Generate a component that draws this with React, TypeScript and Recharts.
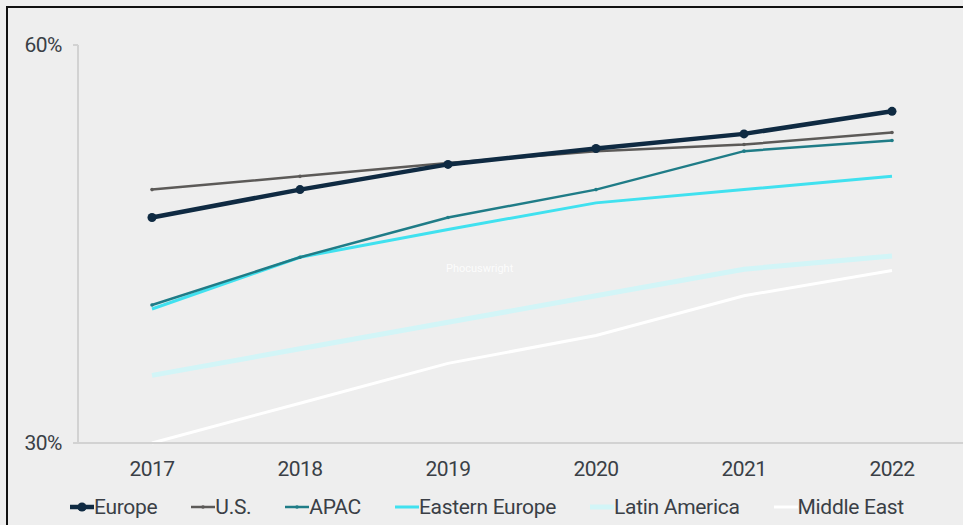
import React from "react";
import { LineChart, Line, XAxis, YAxis, Legend } from "recharts";

const years = ["2017", "2018", "2019", "2020", "2021", "2022"];
const europe = [47.0, 49.1, 51.0, 52.2, 53.3, 55.0];
const us = [49.1, 50.1, 51.1, 52.0, 52.5, 53.4];
const apac = [40.4, 44.0, 47.0, 49.1, 52.0, 52.8];
const easternEurope = [40.1, 44.0, 46.1, 48.1, 49.1, 50.1];
const latinAmerica = [35.1, 37.1, 39.1, 41.1, 43.1, 44.1];
const middleEast = [30.0, 33.0, 36.0, 38.1, 41.1, 43.0];
const yTicks = [30, 60];

const data = years.map((year, i) => ({
  x: i,
  year,
  europe: europe[i],
  us: us[i],
  apac: apac[i],
  easternEurope: easternEurope[i],
  latinAmerica: latinAmerica[i],
  middleEast: middleEast[i],
}));

const series = [
  { key: "europe", name: "Europe", color: "#0f2a42", width: 4.5, dot: 4.5 },
  { key: "us", name: "U.S.", color: "#5c5a58", width: 2.5, dot: 1.8 },
  { key: "apac", name: "APAC", color: "#1f7c87", width: 2.5, dot: 1.8 },
  { key: "easternEurope", name: "Eastern Europe", color: "#40e1ef", width: 3, dot: 0 },
  { key: "latinAmerica", name: "Latin America", color: "#d2f5f7", width: 5, dot: 0 },
  { key: "middleEast", name: "Middle East", color: "#ffffff", width: 3, dot: 0 },
];

const FONT = "Roboto, sans-serif";
const TEXT = "#3a3f46";
const AXIS = "#d2d2d2";

function LegendRow() {
  return (
    <div style={{ display: "flex", gap: 34, alignItems: "center", fontFamily: FONT, fontSize: 21, color: TEXT }}>
      {series.map((s) => (
        <div key={s.key} style={{ display: "flex", alignItems: "center" }}>
          <svg width={24} height={12}>
            <line x1={0} y1={6} x2={24} y2={6} stroke={s.color} strokeWidth={s.width} />
            {s.dot > 0 && <circle cx={12} cy={6} r={s.dot} fill={s.color} />}
          </svg>
          <span style={{ letterSpacing: -0.3 }}>{s.name}</span>
        </div>
      ))}
    </div>
  );
}

export default function App() {
  return (
    <div style={{ position: "absolute", left: 0, top: 0, width: 963, height: 525, overflow: "hidden", background: "#eeeeee" }}>
      <div
        style={{
          position: "absolute",
          left: 6,
          top: 6,
          right: 0,
          bottom: 0,
          borderLeft: "2px solid #111",
          borderTop: "2px solid #111",
        }}
      />
      <div
        style={{
          position: "absolute",
          left: 446,
          top: 262,
          fontFamily: FONT,
          fontSize: 11,
          color: "#ffffff",
          opacity: 0.85,
        }}
      >
        Phocuswright
      </div>
      <div style={{ position: "absolute", left: 0, top: 0 }}>
        <LineChart width={980} height={525} data={data} margin={{ top: 45, right: 14, left: 0, bottom: 0 }}>
          <XAxis
            xAxisId="grid"
            dataKey="x"
            type="number"
            domain={[-0.5, 5.5]}
            ticks={[-0.5, 0.5, 1.5, 2.5, 3.5, 4.5, 5.5]}
            tick={false}
            tickSize={6}
            tickLine={{ stroke: AXIS, strokeWidth: 2 }}
            axisLine={{ stroke: AXIS, strokeWidth: 2 }}
            height={2}
          />
          <XAxis
            xAxisId="yr"
            dataKey="x"
            type="number"
            domain={[-0.5, 5.5]}
            ticks={[0, 1, 2, 3, 4, 5]}
            tickFormatter={(v) => years[v]}
            tickLine={false}
            axisLine={false}
            tickMargin={10}
            tick={{ fill: TEXT, fontSize: 21, fontFamily: FONT, letterSpacing: -0.5 }}
            height={38}
          />
          <YAxis
            domain={[30, 60]}
            ticks={yTicks}
            tickFormatter={(v) => `${v}%`}
            width={78}
            tickSize={5}
            tickMargin={11}
            axisLine={{ stroke: AXIS, strokeWidth: 2 }}
            tickLine={{ stroke: AXIS, strokeWidth: 2 }}
            tick={{ fill: TEXT, fontSize: 21, fontFamily: FONT, letterSpacing: -0.5 }}
          />
          <Legend content={<LegendRow />} verticalAlign="bottom" height={42} wrapperStyle={{ left: 70, top: 495, width: "auto" }} />
          {[...series].reverse().map((s) => (
            <Line
              key={s.key}
              xAxisId="yr"
              dataKey={s.key}
              name={s.name}
              stroke={s.color}
              strokeWidth={s.width}
              dot={s.dot > 0 ? { r: s.dot, fill: s.color, stroke: s.color, strokeWidth: 0 } : false}
              activeDot={false}
              isAnimationActive={false}
            />
          ))}
        </LineChart>
      </div>
    </div>
  );
}
